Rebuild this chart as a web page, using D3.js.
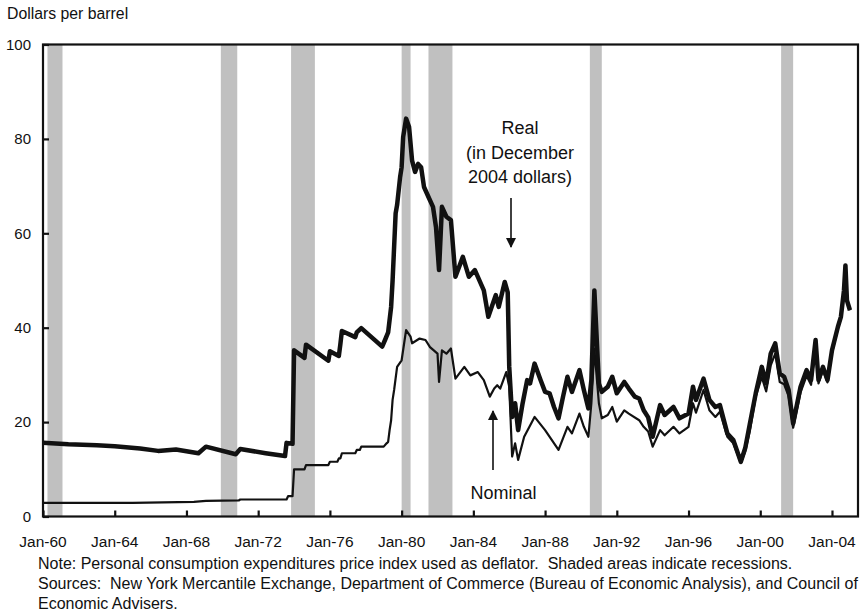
<!DOCTYPE html>
<html>
<head>
<meta charset="utf-8">
<script src="https://cdn.jsdelivr.net/npm/d3@7"></script>
<style>
  html, body { margin: 0; padding: 0; background: #fff; }
  svg { display: block; font-family: "Liberation Sans", Arial, sans-serif; }
</style>
</head>
<body>
<svg id="chart" width="867" height="614"></svg>
<script>
// ---------- DATA ----------
const yTicks = [0, 20, 40, 60, 80, 100];
const xTickYears = [1960, 1964, 1968, 1972, 1976, 1980, 1984, 1988, 1992, 1996, 2000, 2004];

const recessionStart = ["1960-04", "1969-12", "1973-11", "1980-01", "1981-07", "1990-07", "2001-03"];
const recessionEnd   = ["1961-02", "1970-11", "1975-03", "1980-07", "1982-11", "1991-03", "2001-11"];

const realDates = [
  "1960-01","1961-06","1963-01","1964-01","1965-06","1966-06","1967-06","1968-09","1969-02","1970-10",
  "1971-01","1972-06","1973-07","1973-08","1973-12","1974-01","1974-08","1974-09","1975-12","1976-01",
  "1976-07","1976-08","1976-09","1977-06","1977-07","1977-10","1978-12","1979-02","1979-04","1979-06",
  "1979-07","1979-09","1979-10","1979-12","1980-01","1980-02","1980-04","1980-06","1980-08","1980-10",
  "1980-12","1981-02","1981-04","1981-07","1981-10","1981-12","1982-02","1982-04","1982-07","1982-10",
  "1983-01","1983-06","1983-10","1984-02","1984-08","1984-11","1985-04","1985-06","1985-10","1985-12",
  "1986-01","1986-03","1986-05","1986-07","1986-10","1987-01","1987-03","1987-06","1987-10","1988-01",
  "1988-04","1988-07","1988-10","1989-01","1989-04","1989-07","1989-12","1990-03","1990-06","1990-08",
  "1990-10","1991-01","1991-03","1991-07","1991-10","1992-01","1992-06","1992-09","1993-01","1993-04",
  "1993-07","1993-10","1994-01","1994-06","1994-09","1995-03","1995-07","1996-01","1996-04","1996-06",
  "1996-11","1997-03","1997-07","1997-10","1998-03","1998-07","1998-12","1999-03","1999-06","1999-10",
  "2000-02","2000-05","2000-08","2000-11","2001-02","2001-05","2001-08","2001-11","2002-04","2002-08",
  "2002-11","2003-02","2003-04","2003-07","2003-10","2004-01","2004-05","2004-07","2004-09","2004-10",
  "2004-11","2005-01"
];
const realValues = [
  15.6,15.3,15.1,14.9,14.4,13.9,14.2,13.4,14.8,13.2,
  14.3,13.4,12.8,15.6,15.4,35.2,33.6,36.4,33.0,35.0,
  34.0,36.5,39.3,38.0,39.0,39.9,36.0,37.5,39.0,44.4,
  50.0,64.2,66.0,71.9,74.0,80.4,84.3,82.5,75.4,73.0,
  74.7,74.0,69.8,67.7,65.6,61.3,52.2,65.6,63.5,62.8,
  50.8,55.0,50.8,52.2,47.9,42.3,46.9,44.4,49.7,47.5,
  31.7,21.1,24.0,18.3,24.0,28.9,28.2,32.4,28.9,26.4,
  26.1,23.2,20.8,25.4,29.6,26.4,31.0,26.8,22.9,28.9,
  47.9,28.2,26.4,27.5,29.6,26.1,28.5,27.1,25.4,25.0,
  22.5,21.0,16.9,23.6,21.5,23.2,20.8,21.8,27.5,24.7,
  29.2,24.7,23.2,23.6,17.6,16.2,11.6,14.5,19.5,26.1,
  31.7,28.2,34.5,36.7,30.3,29.6,26.8,19.7,27.5,31.0,
  28.9,37.4,28.9,31.7,28.9,35.2,40.2,42.3,47.9,53.2,
  45.8,43.7
];

const nominalDates = [
  "1960-01","1965-01","1968-06","1969-02","1970-12","1971-01","1973-08","1973-09","1973-12","1974-01",
  "1974-08","1974-09","1975-12","1976-01","1976-06","1976-07","1976-08","1976-09","1977-06","1977-07",
  "1977-09","1977-10","1979-01","1979-03","1979-04","1979-05","1979-06","1979-07","1979-08","1979-10",
  "1980-01","1980-04","1980-07","1980-08","1981-01","1981-05","1981-08","1982-01","1982-02","1982-04",
  "1982-07","1982-10","1983-01","1983-07","1983-11","1984-04","1984-08","1984-12","1985-03","1985-05",
  "1985-07","1985-11","1986-01","1986-03","1986-05","1986-07","1986-11","1987-06","1988-01","1988-10",
  "1989-04","1989-07","1989-12","1990-03","1990-06","1990-08","1990-10","1991-01","1991-03","1991-07",
  "1991-10","1992-01","1992-06","1992-09","1993-04","1993-07","1993-10","1994-01","1994-06","1994-09",
  "1995-03","1995-07","1996-01","1996-04","1996-06","1996-11","1997-03","1997-07","1997-10","1998-03",
  "1998-07","1998-12","1999-03","1999-06","1999-10","2000-02","2000-05","2000-08","2000-11","2001-02",
  "2001-05","2001-08","2001-11","2002-04","2002-08","2002-11","2003-02","2003-04","2003-07","2003-10",
  "2004-01","2004-05","2004-07","2004-09","2004-10","2004-11","2005-01"
];
const nominalValues = [
  2.9,2.9,3.1,3.3,3.4,3.6,3.6,4.3,4.3,10.0,
  10.0,10.9,10.9,11.6,11.6,12.3,12.3,13.4,13.4,14.1,
  14.1,14.8,14.8,15.5,15.8,18.3,20.4,24.7,26.8,31.7,
  33.1,39.5,38.1,36.7,37.7,37.4,35.9,34.5,28.5,35.2,
  34.5,35.6,29.2,31.7,29.9,30.6,28.9,25.4,27.1,27.8,
  27.1,30.6,27.5,12.7,15.5,12.0,16.9,21.1,18.3,14.1,
  19.0,17.6,21.8,19.0,16.9,24.0,35.5,24.0,20.8,21.5,
  23.2,20.1,22.5,21.8,20.4,19.0,18.0,14.8,18.3,17.2,
  19.0,17.6,19.0,24.0,22.0,26.8,22.5,21.1,22.2,16.9,
  15.5,11.3,13.8,18.0,25.4,29.5,26.5,32.0,34.5,28.5,
  28.0,25.5,18.8,26.3,29.8,27.9,36.3,28.2,31.0,28.4,
  34.7,39.8,42.0,47.7,53.0,45.7,43.7
];

// ---------- LAYOUT ----------
const svg = d3.select("#chart");
const plotL = 43, plotR = 858, plotT = 44.5, plotB = 516.5;
const parse = d3.timeParse("%Y-%m");
const font = "'Liberation Sans', Arial, sans-serif";
const ink = "#111";

const x = d3.scaleTime()
  .domain([new Date(1960, 0, 1), new Date(2005, 5, 14)])
  .range([plotL, plotR]);
const y = d3.scaleLinear().domain([0, 100]).range([plotB, plotT]);

// Recession shading
svg.append("g").selectAll("rect")
  .data(recessionStart.map((s, i) => ({ s: parse(s), e: parse(recessionEnd[i]) })))
  .join("rect")
  .attr("x", d => x(d.s))
  .attr("width", d => x(d.e) - x(d.s))
  .attr("y", plotT)
  .attr("height", plotB - plotT)
  .attr("fill", "#c0c0c0");

// Lines
const real = realDates.map((d, i) => ({ d: parse(d), v: realValues[i] }));
const nominal = nominalDates.map((d, i) => ({ d: parse(d), v: nominalValues[i] }));
const line = d3.line().x(p => x(p.d)).y(p => y(p.v));

svg.append("path").datum(nominal)
  .attr("d", line).attr("fill", "none").attr("stroke", ink)
  .attr("stroke-width", 2.2).attr("stroke-linejoin", "round");
svg.append("path").datum(real)
  .attr("d", line).attr("fill", "none").attr("stroke", ink)
  .attr("stroke-width", 4.5).attr("stroke-linejoin", "round");

// Frame
svg.append("rect")
  .attr("x", plotL).attr("y", plotT)
  .attr("width", plotR - plotL).attr("height", plotB - plotT)
  .attr("fill", "none").attr("stroke", ink).attr("stroke-width", 2.2);

// Y axis
const yAxis = d3.axisRight(y).tickValues(yTicks).tickSize(6).tickFormat("");
const gy = svg.append("g").attr("transform", `translate(${plotL},0)`).call(yAxis);
gy.select(".domain").remove();
gy.selectAll("line").attr("stroke", ink).attr("stroke-width", 2.2);
svg.append("g").selectAll("text").data(yTicks).join("text")
  .attr("x", 31).attr("y", d => y(d)).attr("dy", "0.35em")
  .attr("text-anchor", "end")
  .style("font-size", "15px").style("font-family", font).attr("fill", ink)
  .text(d => d);

// X axis
const xTickDates = xTickYears.map(yr => new Date(yr, 0, 1));
const xAxis = d3.axisTop(x).tickValues(xTickDates).tickSize(6).tickFormat("");
const gx = svg.append("g").attr("transform", `translate(0,${plotB})`).call(xAxis);
gx.select(".domain").remove();
gx.selectAll("line").attr("stroke", ink).attr("stroke-width", 2.2);
const fmt = d3.timeFormat("%b-%y");
svg.append("g").selectAll("text").data(xTickDates).join("text")
  .attr("x", d => x(d)).attr("y", 542).attr("dy", "0.35em")
  .attr("text-anchor", "middle")
  .style("font-size", "15.5px").style("font-family", font).attr("fill", ink)
  .text(d => fmt(d));

// Y-axis title
svg.append("text").attr("x", 7).attr("y", 13.5).attr("dy", "0.35em")
  .style("font-size", "15.8px").style("font-family", font).attr("fill", ink)
  .text("Dollars per barrel");

// Annotations
const ann = svg.append("g").style("font-family", font).style("font-size", "18px").attr("fill", ink);
ann.append("text").attr("x", 520).attr("y", 127.5).attr("dy", "0.35em").attr("text-anchor", "middle").text("Real");
ann.append("text").attr("x", 520).attr("y", 152.5).attr("dy", "0.35em").attr("text-anchor", "middle").text("(in December");
ann.append("text").attr("x", 520).attr("y", 177).attr("dy", "0.35em").attr("text-anchor", "middle").text("2004 dollars)");
ann.append("text").attr("x", 503.5).attr("y", 493).attr("dy", "0.35em").attr("text-anchor", "middle").text("Nominal");

// Arrows
const defs = svg.append("defs");
defs.append("marker").attr("id", "ah").attr("viewBox", "0 0 10 10")
  .attr("refX", 9).attr("refY", 5).attr("markerWidth", 10).attr("markerHeight", 10)
  .attr("markerUnits", "userSpaceOnUse").attr("orient", "auto")
  .append("path").attr("d", "M0,0 L10,5 L0,10 Z").attr("fill", ink);
svg.append("line").attr("x1", 511).attr("y1", 198).attr("x2", 511).attr("y2", 247)
  .attr("stroke", ink).attr("stroke-width", 1.6).attr("marker-end", "url(#ah)");
svg.append("line").attr("x1", 493).attr("y1", 470).attr("x2", 493).attr("y2", 411)
  .attr("stroke", ink).attr("stroke-width", 1.6).attr("marker-end", "url(#ah)");

// Notes
const noteLines = [
  "Note: Personal consumption expenditures price index used as deflator.  Shaded areas indicate recessions.",
  "Sources:  New York Mercantile Exchange, Department of Commerce (Bureau of Economic Analysis), and Council of",
  "Economic Advisers."
];
svg.append("g").selectAll("text").data(noteLines).join("text")
  .attr("x", 38).attr("y", (d, i) => 563.5 + i * 20).attr("dy", "0.35em")
  .attr("xml:space", "preserve").style("white-space", "pre")
  .style("font-family", font).style("font-size", "16px").attr("fill", ink)
  .text(d => d);
</script>
</body>
</html>
